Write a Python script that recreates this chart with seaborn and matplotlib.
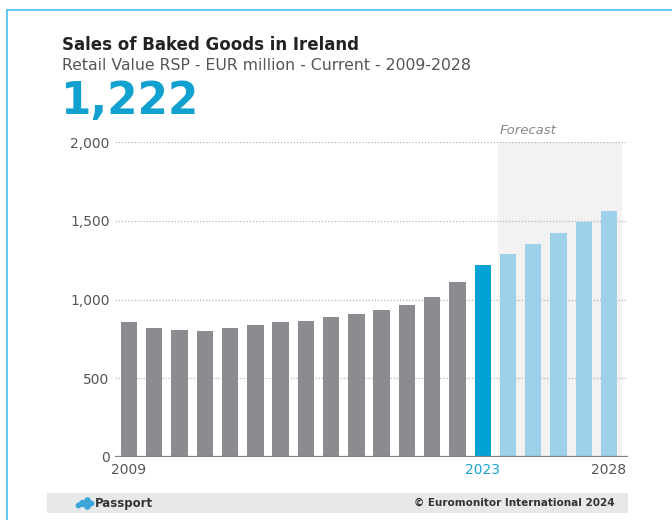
import matplotlib
matplotlib.use("Agg")
import matplotlib.pyplot as plt
import seaborn as sns
import pandas as pd
from matplotlib.patches import Rectangle
from matplotlib.lines import Line2D

years = [str(y) for y in range(2009, 2029)]
values = [855, 818, 808, 800, 820, 838, 854, 866, 889, 908, 932, 968,
          1013, 1113, 1222, 1288, 1352, 1420, 1492, 1563]
kinds = ["hist"] * 14 + ["current"] + ["forecast"] * 5
kind_colors = {"hist": "#8b8c8f", "current": "#00a3d3", "forecast": "#9dd1ea"}
yticks = [0, 500, 1000, 1500, 2000]
ytick_labels = ["0", "500", "1,000", "1,500", "2,000"]
shown_years = ["2009", "2023", "2028"]

df = pd.DataFrame({"year": years, "value": values, "kind": kinds})

sns.set_theme(style="white")
plt.rcParams["font.family"] = ["DejaVu Sans"]

fig = plt.figure(figsize=(6.72, 5.2), dpi=100)
W, H = 672, 520
ax = fig.add_axes([115 / W, 1 - 457 / H, (628 - 115) / W, (457 - 142) / H])

# forecast shading
ax.axvspan(14.62, 19.5, ymin=0, ymax=1, color="#f2f2f2", zorder=0, lw=0)

sns.barplot(data=df, x="year", y="value", hue="kind", palette=kind_colors,
            legend=False, width=0.65, saturation=1, linewidth=0, ax=ax, zorder=3)

ax.set_xlim(-0.554, 19.75)
ax.set_ylim(0, 2000)
ax.set_yticks(yticks)
ax.set_yticklabels(ytick_labels)
for y in yticks[1:]:
    ax.axhline(y, color="#b5b5b5", lw=0.9, ls=(0, (1, 1.5)), zorder=1)
ax.axhline(0, color="#808080", lw=1.6, zorder=4)

pos = [years.index(y) for y in shown_years]
ax.set_xticks(pos)
ax.set_xticklabels(shown_years)
tick_colors = ["#555555", "#1aa3d1", "#555555"]
for lab, c in zip(ax.get_xticklabels(), tick_colors):
    lab.set_color(c)
ax.tick_params(axis="x", length=0, pad=4, labelsize=10)
ax.tick_params(axis="y", length=0, pad=4, labelsize=10, labelcolor="#555555")
ax.set_xlabel("")
ax.set_ylabel("")
for s in ax.spines.values():
    s.set_visible(False)
ax.set_facecolor("none")

ax.text(528 / W, 1 - 131 / H, "Forecast", transform=fig.transFigure,
        ha="center", va="center", fontsize=9.5, style="italic", color="#888888")

# titles
fig.text(62 / W, 1 - 45 / H, "Sales of Baked Goods in Ireland", fontsize=12,
         fontweight="bold", color="#222222", ha="left", va="center")
fig.text(62 / W, 1 - 66 / H, "Retail Value RSP - EUR million - Current - 2009-2028",
         fontsize=11.3, color="#555555", ha="left", va="center")
fig.text(60 / W, 1 - 102 / H, "1,222", fontsize=31.5, fontweight="bold",
         color="#11a1d0", ha="left", va="center")

# outer frame
fig.add_artist(Line2D([7 / W, 7 / W], [0, 1 - 10 / H], transform=fig.transFigure,
                      color="#43bff0", lw=1.2))
fig.add_artist(Line2D([7 / W, 1], [1 - 10 / H, 1 - 10 / H], transform=fig.transFigure,
                      color="#43bff0", lw=1.2))

# footer band
fig.add_artist(Rectangle((47 / W, 1 - 513 / H), (628 - 47) / W, 20 / H,
                         transform=fig.transFigure, color="#e6e8ea", lw=0))
for dx, dy, s in [(0, 0, 18), (5, 3, 14), (5, -3, 14), (-4, 2, 10), (9, 0, 10)]:
    fig.add_artist(Line2D([(82 + dx) / W], [1 - (503 + dy) / H], transform=fig.transFigure,
                          marker="o", markersize=s ** 0.5, color="#3aa6d8", lw=0))
fig.text(95 / W, 1 - 503 / H, "Passport", fontsize=8.5, fontweight="semibold",
         color="#333333", ha="left", va="center")
fig.text(615 / W, 1 - 503 / H, "\u00a9 Euromonitor International 2024", fontsize=7.5,
         fontweight="bold", color="#333333", ha="right", va="center")

fig.savefig("out.png", dpi=100, facecolor="white")
